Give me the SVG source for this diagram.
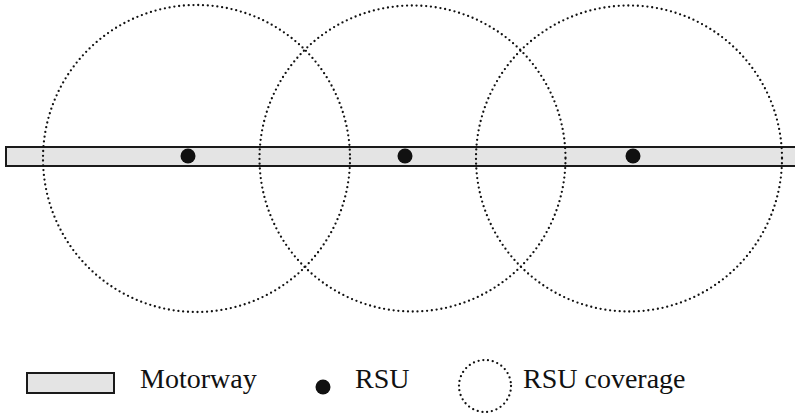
<svg xmlns="http://www.w3.org/2000/svg" width="795" height="416" viewBox="0 0 795 416">
  <style>
    .road { fill: #e4e4e4; stroke: #1a1a1a; stroke-width: 2; }
    .rsu { fill: #111; }
    .cov { fill: none; stroke: #111; stroke-width: 2.3; stroke-linecap: round; stroke-dasharray: 0 4.8; }
    .lbl { font-family: "Liberation Serif", "Times New Roman", serif; font-size: 28px; fill: #111; }
  </style>
  <rect width="795" height="416" fill="#fff"/>

  <!-- motorway -->
  <g id="motorway">
    <rect class="road" x="6" y="147" width="800" height="19"/>
  </g>

  <!-- coverage areas -->
  <g id="coverage">
    <circle id="cov1" class="cov" cx="196.5" cy="158.5" r="153.5"/>
    <circle id="cov2" class="cov" cx="412.5" cy="158.5" r="153"/>
    <circle id="cov3" class="cov" cx="629" cy="158.5" r="153"/>
  </g>

  <!-- roadside units -->
  <g id="rsu1"><circle class="rsu" cx="188" cy="156" r="7.5"/></g>
  <g id="rsu2"><circle class="rsu" cx="405" cy="156" r="7.5"/></g>
  <g id="rsu3"><circle class="rsu" cx="633" cy="156" r="7.5"/></g>

  <!-- legend -->
  <g id="legend">
    <rect class="road" x="27" y="373" width="87" height="20"/>
    <text class="lbl" x="140" y="388">Motorway</text>
    <circle class="rsu" cx="323" cy="387" r="7.5"/>
    <text class="lbl" x="355" y="388">RSU</text>
    <circle class="cov" cx="485" cy="386" r="26" stroke-dasharray="0 4.2"/>
    <text class="lbl" x="523" y="388">RSU coverage</text>
  </g>
</svg>
